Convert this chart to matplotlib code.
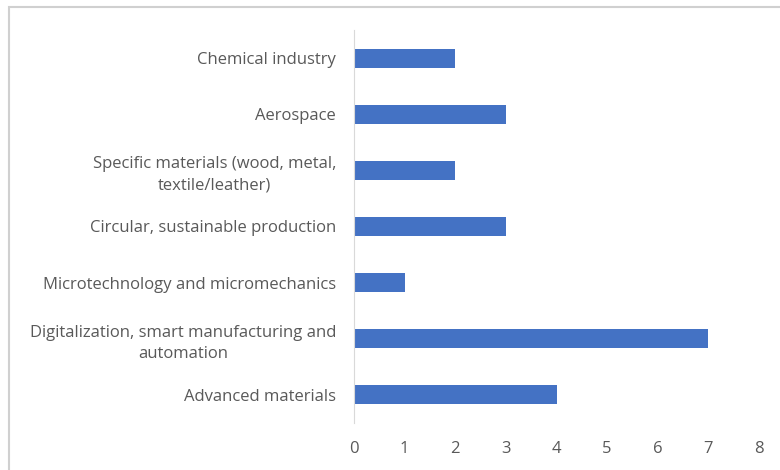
import matplotlib
matplotlib.use("Agg")
import matplotlib.pyplot as plt
from matplotlib.patches import Rectangle

## data, top to bottom as in the chart
categories = [
    "Chemical industry",
    "Aerospace",
    "Specific materials (wood, metal,\ntextile/leather)",
    "Circular, sustainable production",
    "Microtechnology and micromechanics",
    "Digitalization, smart manufacturing and\nautomation",
    "Advanced materials",
]
counts = [2, 3, 2, 3, 1, 7, 4]
xticks = [0, 1, 2, 3, 4, 5, 6, 7, 8]

plt.rcParams['font.family'] = ['Open Sans', 'DejaVu Sans']

fig = plt.figure(figsize=(7.8, 4.7), dpi=100)
fig.patch.set_facecolor("white")

# light frame of the chart area (runs off the right and bottom)
fig.patches.append(Rectangle((9 / 780, -0.1), 1.2, (470 - 7.5) / 470 + 0.1,
                             transform=fig.transFigure, fill=False,
                             edgecolor="#d0d0d0", linewidth=1.5))

ax = fig.add_axes([354 / 780, 47 / 470, 405 / 780, 393 / 470])
ypos = list(range(len(categories)))[::-1]
ax.barh(ypos, counts, height=0.34, color="#4472C4")

ax.set_xlim(0, 8)
ax.set_ylim(-0.5, len(categories) - 0.5)
ax.set_xticks(xticks)
ax.set_xticklabels([str(t) for t in xticks])
ax.set_yticks(ypos)
ax.set_yticklabels(categories, multialignment="center", linespacing=1.4)

for s in ["top", "right", "bottom"]:
    ax.spines[s].set_visible(False)
ax.spines["left"].set_color("#d9d9d9")
ax.tick_params(axis="both", length=0, colors="#595959", labelsize=12)
ax.tick_params(axis="y", pad=13)
ax.tick_params(axis="x", pad=13)

fig.savefig("out.png", dpi=100)
